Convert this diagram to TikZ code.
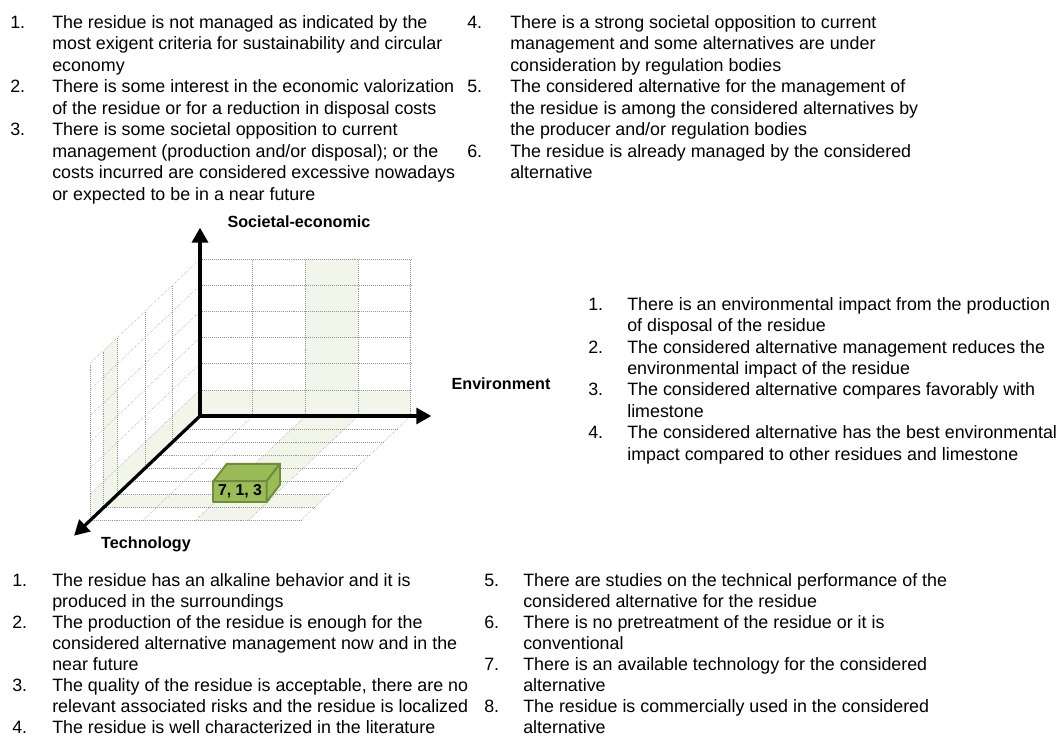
\documentclass[tikz,border=0pt]{standalone}
\usepackage{fontspec}
\setmainfont{Liberation Sans}
\usetikzlibrary{arrows.meta}
\definecolor{CubeGreen}{RGB}{155,187,89}
\definecolor{CubeEdge}{RGB}{113,140,60}
\definecolor{PlaneShade}{RGB}{242,245,233}
\definecolor{GridGray}{RGB}{150,150,150}
\begin{document}
\begin{tikzpicture}[
   criteria/.style={anchor=north west, inner sep=0pt, font=\fontsize{12.7pt}{15.26pt}\selectfont},
   criteriabottom/.style={criteria, font=\fontsize{12.7pt}{14.94pt}\selectfont},
   axislabel/.style={inner sep=0pt, font=\fontsize{11.5pt}{13pt}\selectfont\bfseries},
   axisline/.style={line width=2.3pt},
   >={Triangle[length=0.375cm,width=0.4cm]},
   gridline/.style={GridGray, line width=0.4pt, densely dotted},
   planefill/.style={fill=PlaneShade},
   cubeface/.style={fill=CubeGreen, draw=CubeEdge, line width=1.4pt, line join=round},
   ]

   \useasboundingbox (-5,10.4) rectangle (21.475,-8.025);

   \begin{scope}[x={(1.317cm,0cm)}, y={(0cm,0.654cm)}, z={(-0.344cm,-0.327cm)}]

   \coordinate (Origin) at (0,0,0);
   \coordinate (SocietalEnd) at (0,7.2,0);
   \coordinate (EnvironmentEnd) at (4.39,0,0);
   \coordinate (TechnologyEnd) at (0,0,9.15);

   \fill [planefill] (2,0,0) -- (3,0,0) -- (3,6,0) -- (2,6,0) -- cycle;
   \fill [planefill] (0,0,0) -- (4,0,0) -- (4,1,0) -- (0,1,0) -- cycle;
   \fill [planefill] (2,0,0) -- (3,0,0) -- (3,0,8) -- (2,0,8) -- cycle;
   \fill [planefill] (0,0,6) -- (4,0,6) -- (4,0,7) -- (0,0,7) -- cycle;
   \fill [planefill] (0,0,6) -- (0,6,6) -- (0,6,7) -- (0,0,7) -- cycle;
   \fill [planefill] (0,0,0) -- (0,1,0) -- (0,1,8) -- (0,0,8) -- cycle;

   \draw [gridline] (1,0,0) -- (1,6,0) (2,0,0) -- (2,6,0) (3,0,0) -- (3,6,0) (4,0,0) -- (4,6,0);
   \draw [gridline] (0,1,0) -- (4,1,0) (0,2,0) -- (4,2,0) (0,3,0) -- (4,3,0)
                    (0,4,0) -- (4,4,0) (0,5,0) -- (4,5,0) (0,6,0) -- (4,6,0);

   \draw [gridline] (1,0,0) -- (1,0,8) (2,0,0) -- (2,0,8) (3,0,0) -- (3,0,8) (4,0,0) -- (4,0,8);
   \draw [gridline] (0,0,1) -- (4,0,1) (0,0,2) -- (4,0,2) (0,0,3) -- (4,0,3) (0,0,4) -- (4,0,4)
                    (0,0,5) -- (4,0,5) (0,0,6) -- (4,0,6) (0,0,7) -- (4,0,7) (0,0,8) -- (4,0,8);

   \draw [gridline] (0,1,0) -- (0,1,8) (0,2,0) -- (0,2,8) (0,3,0) -- (0,3,8)
                    (0,4,0) -- (0,4,8) (0,5,0) -- (0,5,8) (0,6,0) -- (0,6,8);
   \draw [gridline] (0,0,2) -- (0,6,2) (0,0,4) -- (0,6,4) (0,0,6) -- (0,6,6)
                    (0,0,7) -- (0,6,7) (0,0,8) -- (0,6,8);

   \draw [axisline, <->] (SocietalEnd) -- (Origin) -- (EnvironmentEnd);
   \draw [axisline, ->, line cap=round] (Origin) -- (TechnologyEnd);

   \end{scope}

   \node (Cube) at (1.0,-1.89) [cubeface, minimum width=1.33cm, minimum height=0.52cm, inner sep=0pt, outer sep=0pt, font=\fontsize{11.24pt}{13pt}\selectfont\bfseries] {7, 1, 3};
   \draw [cubeface] (Cube.north west) -- ++(0.335,0.435) -- ++(1.33,0) -- (Cube.north east) -- cycle;
   \draw [cubeface] (Cube.north east) -- ++(0.335,0.435) -- ++(0,-0.52) -- (Cube.south east) -- cycle;

   \node (SocietalEconomic) at (2.475,4.85) [axislabel] {Societal-economic};
   \node (Environment) at (7.525,0.8) [axislabel] {Environment};
   \node (Technology) at (-1.35,-3.2) [axislabel] {Technology};

   \node (SocietalList) at (-4.75,10.0725) [criteria] {\begin{tabular}{@{}p{1.05cm}@{}l@{}}
   1. & The residue is not managed as indicated by the\\
      & most exigent criteria for sustainability and circular\\
      & economy\\
   2. & There is some interest in the economic valorization\\
      & of the residue or for a reduction in disposal costs\\
   3. & There is some societal opposition to current\\
      & management (production and/or disposal); or the\\
      & costs incurred are considered excessive nowadays\\
      & or expected to be in a near future
   \end{tabular}};

   \node (SocietalListCont) at (6.675,10.0725) [criteria] {\begin{tabular}{@{}p{1.075cm}@{}l@{}}
   4. & There is a strong societal opposition to current\\
      & management and some alternatives are under\\
      & consideration by regulation bodies\\
   5. & The considered alternative for the management of\\
      & the residue is among the considered alternatives by\\
      & the producer and/or regulation bodies\\
   6. & The residue is already managed by the considered\\
      & alternative
   \end{tabular}};

   \node (EnvironmentList) at (9.7,3.03) [criteria] {\begin{tabular}{@{}p{0.975cm}@{}l@{}}
   1. & There is an environmental impact from the production\\
      & of disposal of the residue\\
   2. & The considered alternative management reduces the\\
      & environmental impact of the residue\\
   3. & The considered alternative compares favorably with\\
      & limestone\\
   4. & The considered alternative has the best environmental\\
      & impact compared to other residues and limestone
   \end{tabular}};

   \node (TechnologyList) at (-4.7,-3.8925) [criteriabottom] {\begin{tabular}{@{}p{1.0cm}@{}l@{}}
   1. & The residue has an alkaline behavior and it is\\
      & produced in the surroundings\\
   2. & The production of the residue is enough for the\\
      & considered alternative management now and in the\\
      & near future\\
   3. & The quality of the residue is acceptable, there are no\\
      & relevant associated risks and the residue is localized\\
   4. & The residue is well characterized in the literature
   \end{tabular}};

   \node (TechnologyListCont) at (7.1,-3.8925) [criteriabottom] {\begin{tabular}{@{}p{0.975cm}@{}l@{}}
   5. & There are studies on the technical performance of the\\
      & considered alternative for the residue\\
   6. & There is no pretreatment of the residue or it is\\
      & conventional\\
   7. & There is an available technology for the considered\\
      & alternative\\
   8. & The residue is commercially used in the considered\\
      & alternative
   \end{tabular}};

\end{tikzpicture}
\end{document}
